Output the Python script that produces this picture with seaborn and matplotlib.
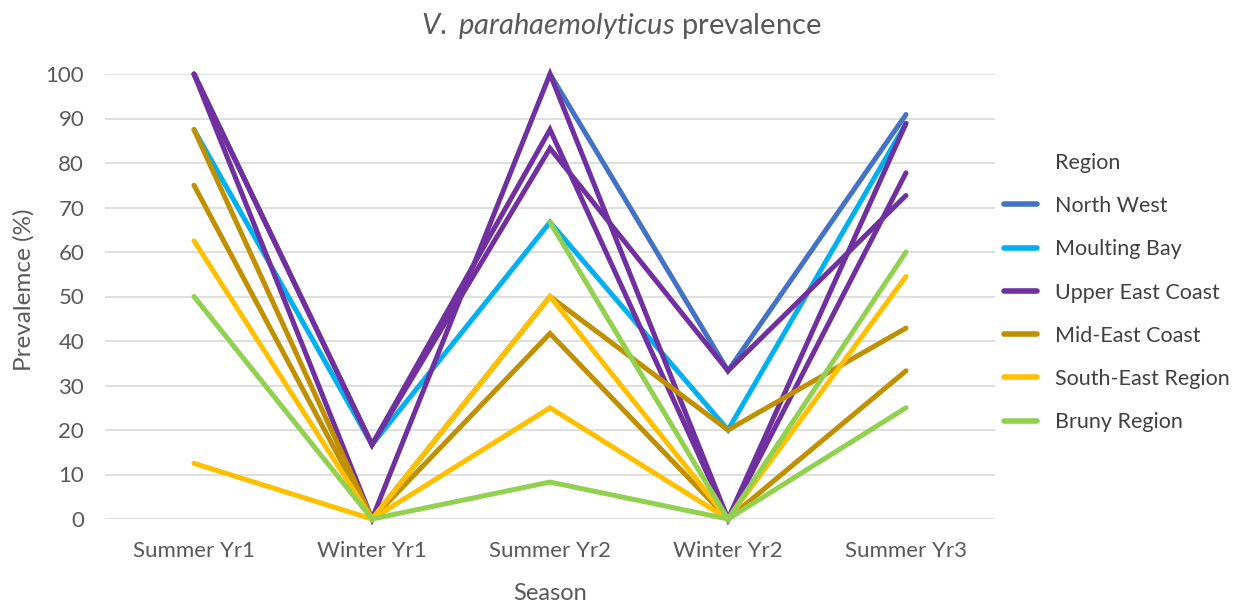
import numpy as np
import pandas as pd
import seaborn as sns
import matplotlib.pyplot as plt

seasons = ["Summer Yr1", "Winter Yr1", "Summer Yr2", "Winter Yr2", "Summer Yr3"]
regions = ["North West", "Moulting Bay", "Upper East Coast",
           "Mid-East Coast", "South-East Region", "Bruny Region"]
colors = ["#4472C4", "#00B0F0", "#7030A0", "#BF9000", "#FFC000", "#92D050"]

nan = np.nan
# one list per sampling site, values in % per season
north_west_1 = [nan, nan, 100, 33.3, 90.9]
moulting_bay_1 = [87.5, 16.7, 66.7, 20, 88.9]
upper_east_1 = [100, 16.7, 87.5, 0, 77.8]
upper_east_2 = [100, 16.7, 83.3, 33.3, 72.7]
upper_east_3 = [100, 0, 100, 0, 88.9]
mid_east_1 = [87.5, 0, 50, 20, 42.9]
mid_east_2 = [75, 0, 41.7, 0, 33.3]
south_east_1 = [62.5, 0, 50, 0, 54.5]
south_east_2 = [12.5, 0, 25, 0, nan]
bruny_1 = [nan, nan, 66.7, 0, 60]
bruny_2 = [50, 0, 8.3, 0, 25]

sites = [
    ("NW1", "North West", north_west_1),
    ("MB1", "Moulting Bay", moulting_bay_1),
    ("UE1", "Upper East Coast", upper_east_1),
    ("UE2", "Upper East Coast", upper_east_2),
    ("UE3", "Upper East Coast", upper_east_3),
    ("ME1", "Mid-East Coast", mid_east_1),
    ("ME2", "Mid-East Coast", mid_east_2),
    ("SE1", "South-East Region", south_east_1),
    ("SE2", "South-East Region", south_east_2),
    ("BR1", "Bruny Region", bruny_1),
    ("BR2", "Bruny Region", bruny_2),
]

rows = []
for site, region, vals in sites:
    for s, v in zip(seasons, vals):
        rows.append({"Site": site, "Region": region, "Season": seasons.index(s), "Prevalence": v})
df = pd.DataFrame(rows)

sns.set_style("white")
plt.rcParams['font.family'] = ['Lato', 'DejaVu Sans']
plt.rcParams['mathtext.fontset'] = 'custom'
plt.rcParams['mathtext.it'] = 'Lato:italic'
plt.rcParams['mathtext.rm'] = 'Lato'

grey = "#595959"
fig = plt.figure(figsize=(12.43, 6.03), dpi=100)
ax = fig.add_axes([105 / 1243, 1 - 519 / 603, 890 / 1243, 445 / 603])

sns.lineplot(data=df, x="Season", y="Prevalence", hue="Region", hue_order=regions,
             palette=colors, units="Site", estimator=None, sort=False,
             lw=3.6, ax=ax, legend=True)
for ln in ax.lines:
    ln.set_clip_on(False)
    ln.set_solid_capstyle("round")
    ln.set_solid_joinstyle("miter")

ax.set_xlim(-0.5, 4.5)
ax.set_ylim(0, 100)
ax.set_xticks(range(len(seasons)))
ax.set_xticklabels(seasons)
ax.set_yticks(range(0, 101, 10))
ax.yaxis.grid(True, color="#D9D9D9", lw=1.2)
ax.set_axisbelow(True)
for sp in ax.spines.values():
    sp.set_visible(False)
ax.tick_params(axis="both", length=0, labelsize=16, labelcolor=grey)
ax.tick_params(axis="y", pad=15)
ax.tick_params(axis="x", pad=16)
ax.set_xlabel("")
ax.set_ylabel("")

fig.text(550 / 1243, 1 - 593 / 603, "Season", ha="center", va="center", fontsize=17, color=grey)
fig.text(24 / 1243, 1 - 290 / 603, "Prevalemce (%)", ha="center", va="center",
         rotation=90, fontsize=17.5, color=grey)
fig.text(0.5, 1 - 26 / 603, r"$\it{V.\ parahaemolyticus}$ prevalence", ha="center", va="center",
         fontsize=21, color=grey)

handles, labels = ax.get_legend_handles_labels()
for h in handles:
    h.set_linewidth(4)
ax.legend(handles, labels, loc="upper left", bbox_to_anchor=(1004 / 1243, 1 - 196 / 603),
          bbox_transform=fig.transFigure, frameon=False, fontsize=15.5, labelcolor="#404040",
          handlelength=1.55, handletextpad=0.8, labelspacing=1.08, borderpad=0, borderaxespad=0)
fig.text(1055 / 1243, 1 - 163 / 603, "Region", ha="left", va="center", fontsize=15.5, color="#404040")

fig.savefig("out.png", dpi=100)
